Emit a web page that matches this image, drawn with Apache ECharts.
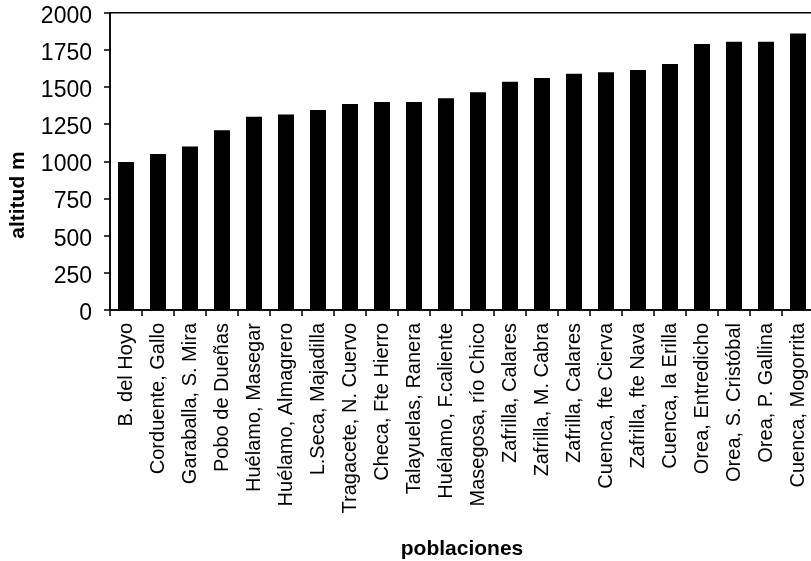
<!DOCTYPE html>
<html>
<head>
<meta charset="utf-8">
<script src="https://cdn.jsdelivr.net/npm/echarts@6/dist/echarts.min.js"></script>
<style>
  html, body { margin: 0; padding: 0; background: #fff; }
  #chart { width: 811px; height: 561px; }
</style>
</head>
<body>
<div id="chart"></div>
<script>
const categories = [
  'B. del Hoyo', 'Corduente, Gallo', 'Garaballa, S. Mira', 'Pobo de Dueñas',
  'Huélamo, Masegar', 'Huélamo, Almagrero', 'L.Seca, Majadilla', 'Tragacete, N. Cuervo',
  'Checa, Fte Hierro', 'Talayuelas, Ranera', 'Huélamo, F.caliente', 'Masegosa, río Chico',
  'Zafrilla, Calares', 'Zafrilla, M. Cabra', 'Zafrilla, Calares', 'Cuenca, fte Cierva',
  'Zafrilla, fte Nava', 'Cuenca, la Erilla', 'Orea, Entredicho', 'Orea, S. Cristóbal',
  'Orea, P. Gallina', 'Cuenca, Mogorrita'
];
const altitudes = [
  995, 1050, 1100, 1210, 1300, 1315, 1345, 1385, 1400, 1400, 1425, 1465,
  1535, 1560, 1590, 1600, 1615, 1655, 1790, 1805, 1805, 1860
];
const yAxisTitle = 'altitud m';
const xAxisTitle = 'poblaciones';

const FONT = '"Liberation Sans", Arial, sans-serif';
const chart = echarts.init(document.getElementById('chart'));
chart.setOption({
  animation: false,
  backgroundColor: '#ffffff',
  grid: {
    left: 110, top: 12.7, width: 704, height: 297.3,
    containLabel: false,
    outerBoundsMode: 'none',
    show: true, borderColor: '#000', borderWidth: 1.5, backgroundColor: 'transparent'
  },
  xAxis: {
    type: 'category',
    data: categories,
    name: xAxisTitle,
    nameLocation: 'middle',
    nameGap: 229,
    nameTextStyle: { fontFamily: FONT, fontSize: 21, fontWeight: 'bold', color: '#000' },
    axisLine: { lineStyle: { color: '#000', width: 1.5 } },
    axisTick: { show: true, length: 6, inside: false, alignWithLabel: false, lineStyle: { color: '#000', width: 1.5 } },
    axisLabel: {
      interval: 0, rotate: 90, margin: 13,
      fontFamily: FONT, fontSize: 20, color: '#000'
    },
    splitLine: { show: false }
  },
  yAxis: {
    type: 'value',
    min: 0, max: 2000, interval: 250,
    axisLine: { show: true, lineStyle: { color: '#000', width: 1.5 } },
    axisTick: { show: true, length: 6, lineStyle: { color: '#000', width: 1.5 } },
    axisLabel: {
      margin: 18, fontFamily: FONT, fontSize: 23, color: '#000',
      formatter: function (v) { return '{v|' + v + '}'; },
      rich: {
        v: { fontFamily: FONT, fontSize: 23, color: '#000', padding: [7, 0, 0, 0] }
      }
    },
    splitLine: { show: false }
  },
  graphic: [{
    type: 'text',
    x: 18, y: 195,
    rotation: Math.PI / 2,
    style: {
      text: yAxisTitle,
      font: 'bold 21px ' + FONT,
      fill: '#000',
      align: 'center',
      verticalAlign: 'middle'
    }
  }],
  series: [{
    type: 'bar',
    data: altitudes,
    barWidth: 16,
    itemStyle: { color: '#000' }
  }]
});
</script>
</body>
</html>
